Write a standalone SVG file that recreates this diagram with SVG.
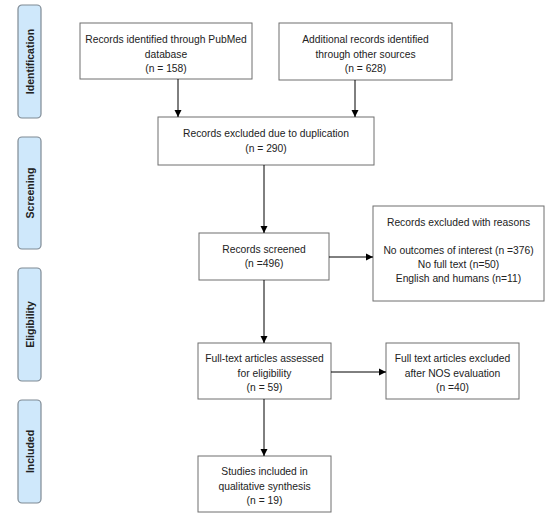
<svg xmlns="http://www.w3.org/2000/svg" width="550" height="521" viewBox="0 0 550 521">
<defs>
<marker id="ah" markerWidth="8" markerHeight="8" refX="7" refY="4" orient="auto" markerUnits="userSpaceOnUse">
<path d="M0,0.5 L7,4 L0,7.5 Z" fill="#000"/>
</marker>
<style>
.box{fill:#fff;stroke:#6f6f6f;stroke-width:1}
.side{fill:#cfe8fb;stroke:#7f8a94;stroke-width:1.2}
.t{font-family:"Liberation Sans",Arial,sans-serif;font-size:10.3px;fill:#222;text-anchor:middle}
.s{font-family:"Liberation Sans",Arial,sans-serif;font-size:10.5px;font-weight:bold;fill:#222;text-anchor:middle}
.c{stroke:#000;stroke-width:1;fill:none;marker-end:url(#ah)}
</style>
</defs>
<rect width="550" height="521" fill="#fff"/>
<g id="side-identification"><rect class="side" x="18" y="5" width="23" height="113" rx="4"/><text class="s" transform="translate(33.5,61.5) rotate(-90)">Identification</text></g>
<g id="side-screening"><rect class="side" x="18" y="137" width="23" height="112" rx="4"/><text class="s" transform="translate(33.5,193) rotate(-90)">Screening</text></g>
<g id="side-eligibility"><rect class="side" x="18" y="268" width="23" height="113" rx="4"/><text class="s" transform="translate(33.5,324.5) rotate(-90)">Eligibility</text></g>
<g id="side-included"><rect class="side" x="18" y="400" width="23" height="103" rx="4"/><text class="s" transform="translate(33.5,451.5) rotate(-90)">Included</text></g>

<g id="pubmed"><rect class="box" x="80" y="23" width="172" height="56"/>
<text class="t" x="166" y="43">Records identified through PubMed</text>
<text class="t" x="166" y="57.5">database</text>
<text class="t" x="166" y="72">(n = 158)</text></g>
<g id="other"><rect class="box" x="279" y="23" width="173" height="57"/>
<text class="t" x="365.5" y="43">Additional records identified</text>
<text class="t" x="365.5" y="57.5">through other sources</text>
<text class="t" x="365.5" y="72">(n = 628)</text></g>
<g id="duplication"><rect class="box" x="158" y="117" width="216" height="48"/>
<text class="t" x="266" y="137">Records excluded due to duplication</text>
<text class="t" x="266" y="152">(n = 290)</text></g>
<g id="screened"><rect class="box" x="199" y="233" width="130" height="47"/>
<text class="t" x="264" y="253">Records screened</text>
<text class="t" x="264" y="267">(n =496)</text></g>
<g id="reasons"><rect class="box" x="373" y="206" width="171" height="95"/>
<text class="t" x="458.5" y="226">Records excluded with reasons</text>
<text class="t" x="458.5" y="254">No outcomes of interest (n =376)</text>
<text class="t" x="458.5" y="268">No full text (n=50)</text>
<text class="t" x="458.5" y="282">English and humans (n=11)</text></g>
<g id="fulltext"><rect class="box" x="198" y="343" width="133" height="56"/>
<text class="t" x="264.5" y="362">Full-text articles assessed</text>
<text class="t" x="264.5" y="377">for eligibility</text>
<text class="t" x="264.5" y="391">(n = 59)</text></g>
<g id="nos"><rect class="box" x="386" y="343" width="133" height="56"/>
<text class="t" x="452.5" y="362">Full text articles excluded</text>
<text class="t" x="452.5" y="377">after NOS evaluation</text>
<text class="t" x="452.5" y="391">(n =40)</text></g>
<g id="included"><rect class="box" x="198" y="456" width="133" height="56"/>
<text class="t" x="264.5" y="475">Studies included in</text>
<text class="t" x="264.5" y="490">qualitative synthesis</text>
<text class="t" x="264.5" y="504">(n = 19)</text></g>

<g id="connectors">
<path class="c" d="M178,79 V117"/>
<path class="c" d="M355,80 V117"/>
<path class="c" d="M264,165 V233"/>
<path class="c" d="M329,257 H373"/>
<path class="c" d="M264,280 V343"/>
<path class="c" d="M331,372 H386"/>
<path class="c" d="M264,399 V456"/>
</g>
</svg>
